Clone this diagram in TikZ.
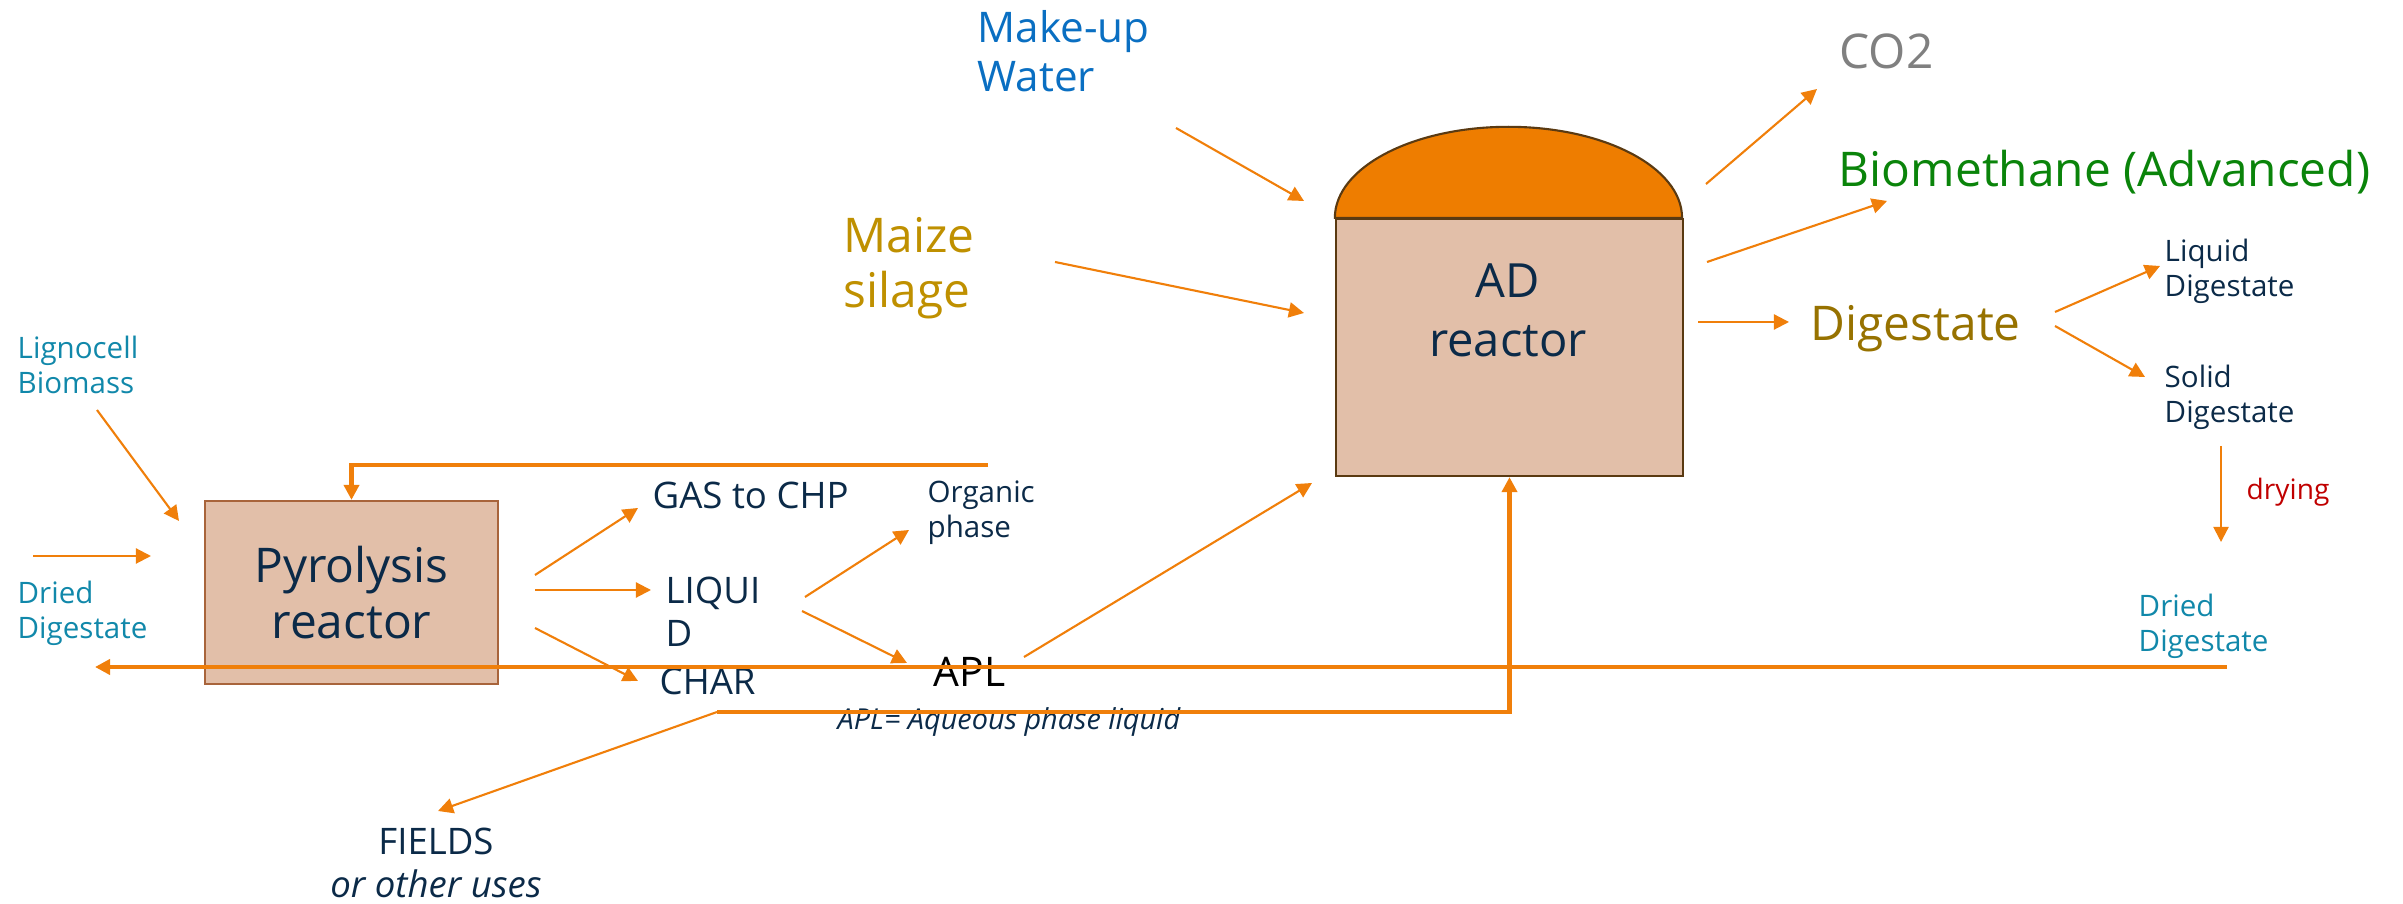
\documentclass[tikz,border=0pt]{standalone}
\usepackage{fontspec}
\setmainfont{Open Sans}
\usetikzlibrary{positioning,arrows.meta}
\definecolor{lineorange}{HTML}{F07F0A}
\definecolor{domeorange}{HTML}{EE7D00}
\definecolor{boxfill}{HTML}{E2BFA9}
\definecolor{pyroedge}{HTML}{A8643B}
\definecolor{adedge}{HTML}{5A3A12}
\definecolor{navy}{HTML}{0B2A48}
\definecolor{tealtxt}{HTML}{1188AA}
\definecolor{mublue}{HTML}{0A6FC2}
\definecolor{maizecol}{HTML}{BF9000}
\definecolor{dgbrown}{HTML}{977200}
\definecolor{bmgreen}{HTML}{0A840A}
\definecolor{cogrey}{HTML}{808080}
\definecolor{dryred}{HTML}{C00000}
\tikzset{
  >={Triangle[length=4.3pt,width=4.3pt]},
  flowarr/.style={->,line width=0.6pt,draw=lineorange},
  loopline/.style={line width=1.15pt,draw=lineorange},
  loopflow/.style={loopline,->},
  pyrobox/.style={draw=pyroedge,fill=boxfill,line width=0.6pt,
    minimum width=2.93cm,minimum height=1.83cm,align=center,text=navy,
    font=\fontsize{13.6}{15.9}\selectfont},
  adbox/.style={draw=adedge,fill=boxfill,line width=0.6pt,
    minimum width=3.47cm,minimum height=2.57cm},
  dome/.style={draw=adedge,fill=domeorange,line width=0.6pt},
  txt/.style={inner sep=0pt,anchor=base west,align=left},
  ctxt/.style={inner sep=0pt,anchor=base,align=center},
  bigtxt/.style={txt,font=\fontsize{13.6}{15.9}\selectfont},
  midtxt/.style={txt,font=\fontsize{10.4}{12.5}\selectfont,text=navy},
  smalltxt/.style={txt,font=\fontsize{8.4}{10}\selectfont},
}
\begin{document}
\begin{tikzpicture}[x=0.01cm,y=-0.01cm]
  \useasboundingbox (0,0) rectangle (2403,904);
  % reactors
  \node[pyrobox] (pyro) at (351.5,592.5) {Pyrolysis\\reactor};
  \node[adbox] (ad) at (1509.5,347.5) {};
  \draw[dome] (ad.north west) arc[start angle=180,end angle=0,
    x radius=1.735cm,y radius=0.91cm] -- cycle;
  \node[ctxt,text=navy,font=\fontsize{13.4}{16.8}\selectfont] (adtxt)
    at (1508,357) {AD\\reactor};
  % texts (base = last line)
  \node[txt,text=mublue,font=\fontsize{12}{14.2}\selectfont] (water)
    at (977,92) {Make-up\\Water};
  \node[bigtxt,text=maizecol] (maize) at (843,308) {Maize\\silage};
  \node[bigtxt,text=cogrey] (co2) at (1839,69) {CO2};
  \node[bigtxt,text=bmgreen] (biometh) at (1838,187) {Biomethane (Advanced)};
  \node[bigtxt,text=dgbrown] (digest) at (1810,341) {Digestate};
  \node[smalltxt,text=navy] (liqdig) at (2164,297) {Liquid\\Digestate};
  \node[smalltxt,text=navy] (soldig) at (2164,423) {Solid\\Digestate};
  \node[txt,text=dryred,font=\fontsize{8}{10}\selectfont] (drying)
    at (2246,500) {drying};
  \node[smalltxt,text=tealtxt] (drieddigR) at (2138,652) {Dried\\Digestate};
  \node[smalltxt,text=tealtxt] (ligno) at (17,394) {Lignocell\\Biomass};
  \node[smalltxt,text=tealtxt] (drieddigL) at (17,639) {Dried\\Digestate};
  \node[midtxt] (gas) at (652,509) {GAS to CHP};
  \node[midtxt] (liquid) at (665,647) {LIQUI\\D};
  \node[midtxt] (char) at (659,695) {CHAR};
  \node[smalltxt,text=navy] (organic) at (927,538) {Organic\\phase};
  \node[txt,font=\fontsize{11.6}{14}\selectfont] (apl) at (933,687) {APL};
  \node[txt,text=navy,font=\fontsize{8.2}{10}\selectfont\itshape] (aplnote)
    at (837,730) {APL= Aqueous phase liquid};
  \node[ctxt,text=navy,font=\fontsize{10.4}{12.5}\selectfont] (fields)
    at (436,898) {FIELDS\\\textit{or other uses}};
  % arrow ends
  \coordinate (mwA) at (1176,128); \coordinate (mwB) at (1304,201);
  \coordinate (msA) at (1055,262); \coordinate (msB) at (1304,313);
  \coordinate (coA) at (1706,184); \coordinate (coB) at (1817,89);
  \coordinate (bmA) at (1707,262); \coordinate (bmB) at (1887,201);
  \coordinate (dgA) at (1698,322); \coordinate (dgB) at (1789,322);
  \coordinate (ldA) at (2055,312); \coordinate (ldB) at (2160,266);
  \coordinate (sdA) at (2055,326); \coordinate (sdB) at (2145,377);
  \coordinate (dryA) at (2221,446); \coordinate (dryB) at (2221,542);
  \coordinate (lbA) at (97,410); \coordinate (lbB) at (179,521);
  \coordinate (ddA) at (33,556); \coordinate (ddB) at (151,556);
  \coordinate (gsA) at (535,575); \coordinate (gsB) at (638,508);
  \coordinate (lqA) at (535,590); \coordinate (lqB) at (651,590);
  \coordinate (chA) at (535,628); \coordinate (chB) at (638,681);
  \coordinate (orA) at (805,597); \coordinate (orB) at (909,530);
  \coordinate (apA) at (802,611); \coordinate (apB) at (907,663);
  \coordinate (aaA) at (1024,657); \coordinate (aaB) at (1312,483);
  \coordinate (fdB) at (438,811);
  \coordinate (tlA) at (988,465);
  \coordinate (lrA) at (2227,667); \coordinate (lrB) at (95,667);
  \coordinate (btA) at (717,712);
  % flows
  \foreach \a/\b in {mwA/mwB,msA/msB,coA/coB,bmA/bmB,dgA/dgB,ldA/ldB,
      sdA/sdB,dryA/dryB,lbA/lbB,ddA/ddB,gsA/gsB,lqA/lqB,chA/chB,
      orA/orB,apA/apB,aaA/aaB,btA/fdB}
    \draw[flowarr] (\a) -- (\b);
  \draw[loopflow] (tlA) -| (pyro.north);
  \draw[loopflow] (lrA) -- (lrB);
  \draw[loopflow] (btA) -| (ad.south);
\end{tikzpicture}
\end{document}
